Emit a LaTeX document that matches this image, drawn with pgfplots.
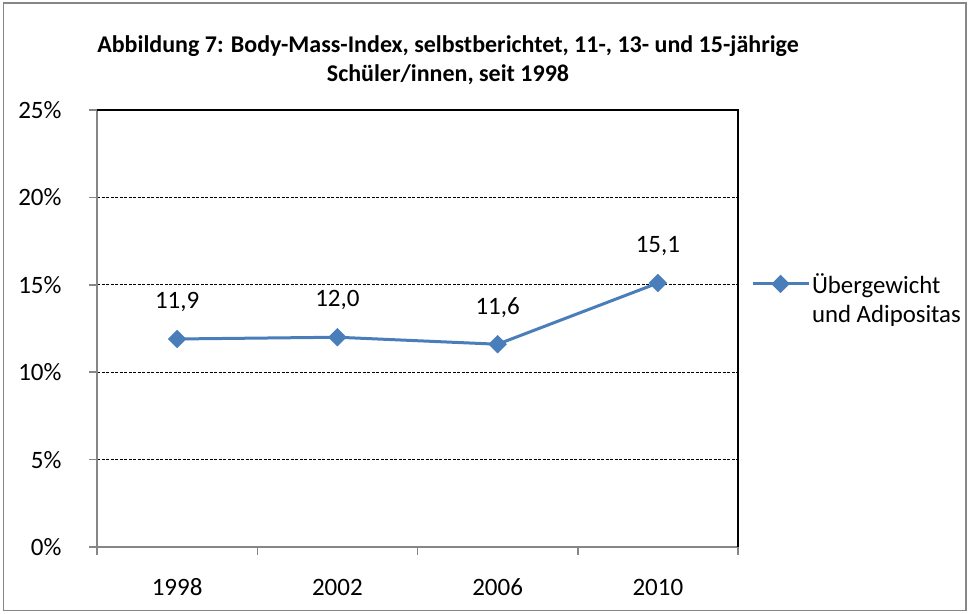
\documentclass[border=0pt]{standalone}
\usepackage{pgfplots}
\pgfplotsset{compat=1.18}
\usepackage{fontspec}
\setmainfont{Carlito}
\definecolor{lineblue}{HTML}{4A7EBB}
\definecolor{axgray}{HTML}{868686}
\begin{document}
\begin{tikzpicture}[x=1pt,y=1pt]
\useasboundingbox (0,0) rectangle (969,613);
\draw[axgray, line width=1.5pt] (3.5,2.5) rectangle (966,610);
\node[font=\fontsize{24}{29}\selectfont\bfseries, align=center] at (448,553) {Abbildung 7: Body-Mass-Index, selbstberichtet, 11-, 13- und 15-jährige\\Schüler/innen, seit 1998};
\begin{axis}[
  at={(97pt,66pt)}, anchor=south west,
  width=641pt, height=437pt, scale only axis,
  xmin=-0.5, xmax=3.5, ymin=0, ymax=25,
  /pgf/number format/assume math mode=true,
  xtick={0,1,2,3}, xticklabels={1998,2002,2006,2010},
  major x tick style={draw=none},
  extra x ticks={-0.5,0.5,1.5,2.5,3.5}, extra x tick labels={},
  extra x tick style={major x tick style={draw=axgray, line width=1.5pt}, major tick length=8pt, grid=none},
  ytick={0,5,...,25}, yticklabel={\pgfmathprintnumber{\tick}\%},
  ymajorgrids, major grid style={black, dash pattern=on 3pt off 1.5pt, line width=1pt},
  tick align=outside, major tick length=8pt,
  axis x line*=bottom, axis y line*=left,
  axis line style={axgray, line width=1.5pt, -},
  ytick style={axgray, line width=1.5pt},
  tick label style={font=\fontsize{25}{29}\selectfont, black},
  xticklabel style={anchor=base, yshift=-40pt},
  yticklabel style={xshift=-24pt},
  legend style={draw=none, fill=none, at={(rel axis cs:1.02,0.602)}, anchor=west,
    font=\fontsize{24.8}{29}\selectfont, inner sep=0pt},
  legend cell align=left,
  legend image code/.code={\draw[mark repeat=2, mark phase=2] plot coordinates {(0pt,0pt) (28pt,0pt) (56pt,0pt)};},
  clip=false,
]
\addplot[lineblue, line width=3pt, mark=square*, mark size=5pt, mark options={rotate=45, solid, fill=lineblue},
  nodes near coords={\pgfmathprintnumber[fixed,fixed zerofill,precision=1,use comma]{\pgfplotspointmeta}},
  nodes near coords style={font=\fontsize{25}{29}\selectfont, black, anchor=center, yshift=37pt}]
  coordinates {(0,11.9) (1,12.0) (2,11.6) (3,15.1)};
\addlegendentry{\begin{tabular}[t]{@{}l@{}}Übergewicht\\und Adipositas\end{tabular}}
\draw[black, line width=1.5pt] (rel axis cs:0,1) -- (rel axis cs:1,1) -- (rel axis cs:1,0);
\end{axis}
\end{tikzpicture}
\end{document}
